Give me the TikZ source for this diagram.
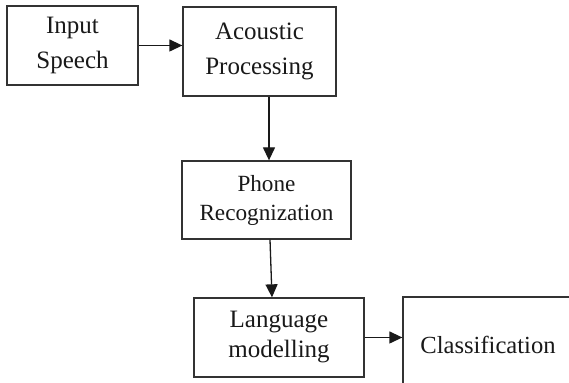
\documentclass[tikz,border=0pt]{standalone}
\usepackage{fontspec}
\setmainfont{Liberation Serif}
\usetikzlibrary{positioning}
\usetikzlibrary{arrows.meta}
\begin{document}
\begin{tikzpicture}[x=0.5pt, y=-0.5pt,
  every node/.style={draw=black!80, fill=white, line width=0.65pt, inner sep=0pt, align=center, text=black!90},
  flow/.style={-{Triangle[length=6.5pt,width=6pt]}, line width=0.65pt, draw=black!90}]
  \useasboundingbox (0,0) rectangle (569,383);
  \clip (0,0) rectangle (569,383);
  \node[minimum width=65.5pt, minimum height=39.5pt, font=\fontsize{12.5}{17.5}\selectfont] (speech) at (72.5,45.5)
    {Input\\Speech};
  \node[minimum width=76.5pt, minimum height=44.5pt, font=\fontsize{12.5}{17.5}\selectfont] (acoustic) at (259.5,51.5)
    {Acoustic\\Processing};
  \node[minimum width=84.5pt, minimum height=39pt, font=\fontsize{11.6}{14.5}\selectfont] (phone) at (266.5,200)
    {Phone\\Recognization};
  \node[minimum width=85pt, minimum height=39.5pt, font=\fontsize{12.5}{15}\selectfont] (language) at (279,337.5)
    {Language\\modelling};
  \node[minimum width=85pt, minimum height=48pt, font=\fontsize{12.3}{15}\selectfont] (class) at (488,345)
    {Classification};
  \draw[flow] (speech.east) -- (speech.east -| acoustic.west);
  \draw[flow] ([xshift=1.25pt]phone.north |- acoustic.south) -- ([xshift=1.25pt]phone.north);
  \draw[flow] ([xshift=1.75pt]phone.south) -- ([xshift=-3.5pt]language.north);
  \draw[flow] (language.east) -- (language.east -| class.west);
\end{tikzpicture}
\end{document}
